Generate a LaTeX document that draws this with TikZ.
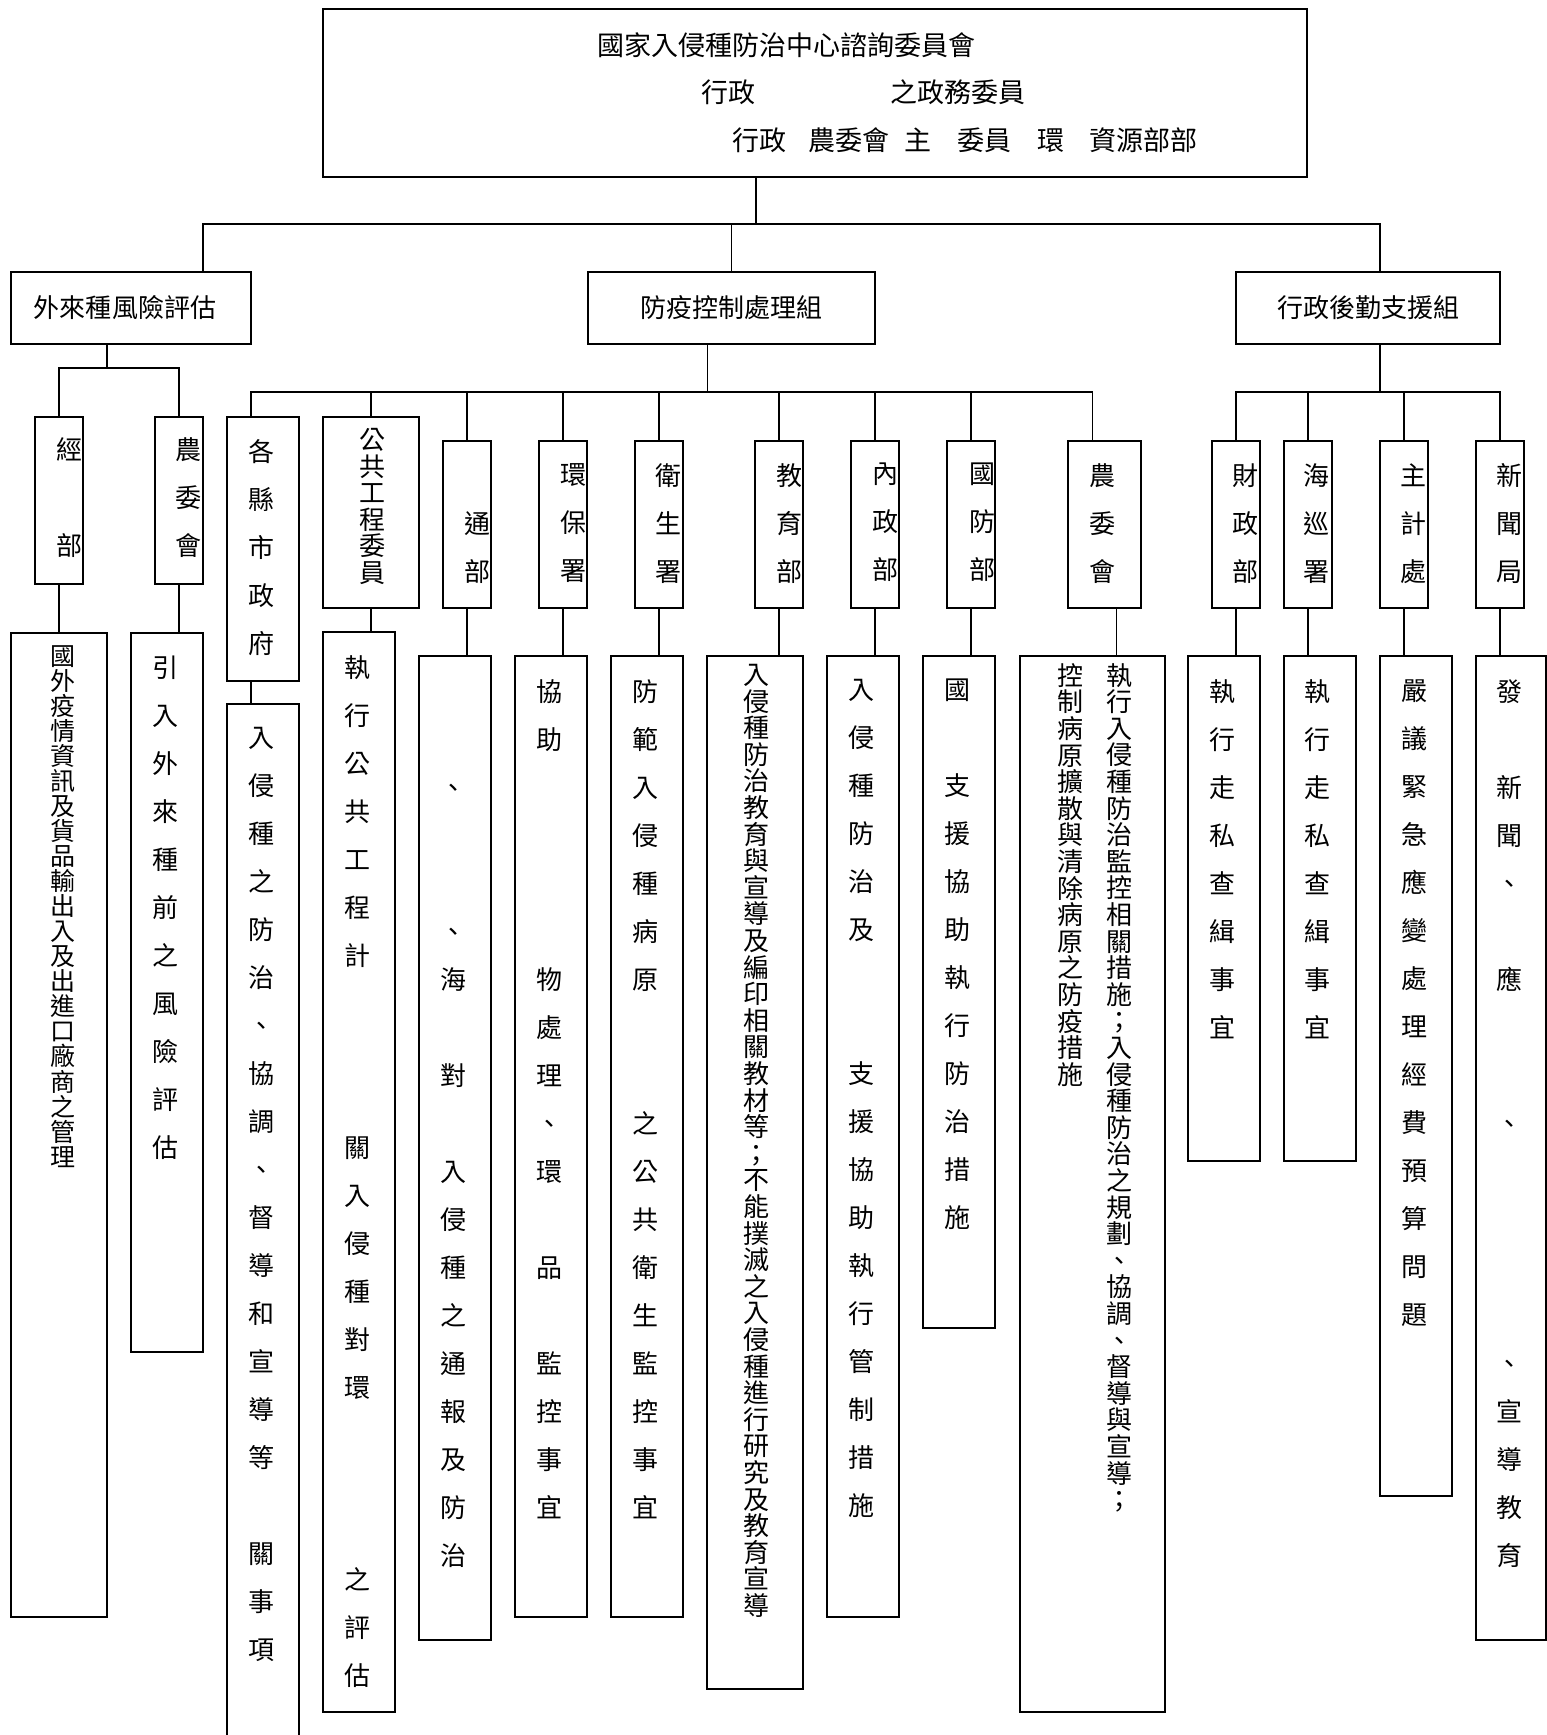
\documentclass[tikz,border=0pt]{standalone}
\usepackage{fontspec}
\setmainfont{Noto Sans CJK TC}
\usetikzlibrary{positioning,fit}
\newcommand{\emptyslot}{\rule{0pt}{22pt}}

\begin{document}
\begin{tikzpicture}[x=1pt, y=-1pt,
    box/.style={draw, line width=1.8pt, inner sep=0pt},
    link/.style={line width=1.8pt},
    glabel/.style={inner sep=0pt, font=\fontsize{26}{30}\selectfont},
    hlabel/.style={inner sep=0pt, anchor=west, font=\fontsize{27}{30}\selectfont},
    vlabel/.style={inner sep=0pt, align=center, font=\fontsize{26}{48}\selectfont},
    vdense/.style={vlabel, font=\fontsize{26}{26.6}\selectfont},
    vsmall/.style={vlabel, font=\fontsize{25}{25.05}\selectfont}
]
\useasboundingbox (0,0) rectangle (1547,1735);

% committee
\node[box, fit={(323,9) (1307,177)}] (council) {};
\node[hlabel] (title) at (597,45) {國家入侵種防治中心諮詢委員會};
\node[hlabel] (line2) at (701,92) {行政\hspace{135pt}之政務委員};
\node[hlabel] (line3) at (732,140)
    {行政\hspace{22pt}農委會\hspace{15pt}主\hspace{26pt}委員\hspace{26pt}環\hspace{25pt}資源部部};

% groups
\node[box, fit={(11,272) (251,344)}] (risk) {};
\node[box, fit={(588,272) (875,344)}] (ctl) {};
\node[box, fit={(1236,272) (1500,344)}] (admin) {};
\node[glabel, xshift=-6pt] (risk-t) at (risk.center) {外來種風險評估};
\node[glabel] (ctl-t) at (ctl.center) {防疫控制處理組};
\node[glabel] (admin-t) at (admin.center) {行政後勤支援組};

% agencies
\node[box, fit={(35,417) (83,584)}] (cw) {};
\node[box, fit={(155,417) (203,584)}] (coa1) {};
\node[box, fit={(227,417) (299,681)}] (gov) {};
\node[box, fit={(323,417) (419,608)}] (pcc) {};
\node[box, fit={(443,441) (491,608)}] (motc) {};
\node[box, fit={(539,441) (587,608)}] (epa) {};
\node[box, fit={(635,441) (683,608)}] (doh) {};
\node[box, fit={(755,441) (803,608)}] (moe) {};
\node[box, fit={(851,441) (899,608)}] (moi) {};
\node[box, fit={(947,441) (995,608)}] (mnd) {};
\node[box, fit={(1068,441) (1141,608)}] (coa2) {};
\node[box, fit={(1212,441) (1260,608)}] (fin) {};
\node[box, fit={(1284,441) (1332,608)}] (cga) {};
\node[box, fit={(1380,441) (1428,608)}] (dgbas) {};
\node[box, fit={(1476,441) (1524,608)}] (gio) {};

\node[vlabel, below=21pt of cw.north, xshift=10pt] (cw-t) {經\\\emptyslot\\部};
\node[vlabel, below=21pt of coa1.north, xshift=9pt] (coa1-t) {農\\委\\會};
\node[vlabel, below=23pt of gov.north, xshift=-2pt] (gov-t) {各\\縣\\市\\政\\府};
\node[vdense, below=12pt of pcc.north, xshift=1pt] (pcc-t) {公\\共\\工\\程\\委\\員};
\node[vlabel, below=23pt of motc.north, xshift=10pt] (motc-t) {\emptyslot\\通\\部};
\node[vlabel, below=23pt of epa.north, xshift=10pt] (epa-t) {環\\保\\署};
\node[vlabel, below=23pt of doh.north, xshift=9pt] (doh-t) {衛\\生\\署};
\node[vlabel, below=23pt of moe.north, xshift=10pt] (moe-t) {教\\育\\部};
\node[vlabel, below=23pt of moi.north, xshift=10pt] (moi-t) {內\\政\\部};
\node[vlabel, below=23pt of mnd.north, xshift=11pt] (mnd-t) {國\\防\\部};
\node[vlabel, below=23pt of coa2.north, xshift=-2pt] (coa2-t) {農\\委\\會};
\node[vlabel, below=23pt of fin.north, xshift=9pt] (fin-t) {財\\政\\部};
\node[vlabel, below=23pt of cga.north, xshift=8pt] (cga-t) {海\\巡\\署};
\node[vlabel, below=23pt of dgbas.north, xshift=9pt] (dgbas-t) {主\\計\\處};
\node[vlabel, below=23pt of gio.north, xshift=9pt] (gio-t) {新\\聞\\局};

% duties
\node[box, fit={(11,633) (107,1617)}] (cwd) {};
\node[box, fit={(131,633) (203,1352)}] (coa1d) {};
\node[box, fit={(227,704) (299,1770)}] (govd) {};
\node[box, fit={(323,632) (395,1712)}] (pccd) {};
\node[box, fit={(419,656) (491,1640)}] (motcd) {};
\node[box, fit={(515,656) (587,1617)}] (epad) {};
\node[box, fit={(611,656) (683,1617)}] (dohd) {};
\node[box, fit={(707,656) (803,1689)}] (moed) {};
\node[box, fit={(827,656) (899,1617)}] (moid) {};
\node[box, fit={(923,656) (995,1328)}] (mndd) {};
\node[box, fit={(1020,656) (1165,1712)}] (coa2d) {};
\node[box, fit={(1188,656) (1260,1161)}] (find) {};
\node[box, fit={(1284,656) (1356,1161)}] (cgad) {};
\node[box, fit={(1380,656) (1452,1496)}] (dgbasd) {};
\node[box, fit={(1476,656) (1546,1640)}] (giod) {};

\node[vsmall, below=13pt of cwd.north, xshift=4pt] (cwd-t)
    {國\\外\\疫\\情\\資\\訊\\及\\貨\\品\\輸\\出\\入\\及\\出\\進\\口\\廠\\商\\之\\管\\理};
\node[vlabel, below=24pt of coa1d.north, xshift=-2pt] (coa1d-t)
    {引\\入\\外\\來\\種\\前\\之\\風\\險\\評\\估};
\node[vlabel, below=24pt of govd.north, xshift=-2pt] (govd-t)
    {入\\侵\\種\\之\\防\\治\\、\\協\\調\\、\\督\\導\\和\\宣\\導\\等\\\emptyslot\\關\\事\\項};
\node[vlabel, below=24pt of pccd.north, xshift=-2pt] (pccd-t)
    {執\\行\\公\\共\\工\\程\\計\\\emptyslot\\\emptyslot\\\emptyslot\\關\\入\\侵\\種\\對\\環\\\emptyslot\\\emptyslot\\\emptyslot\\之\\評\\估};
\node[vlabel, below=24pt of motcd.north, xshift=-2pt] (motcd-t)
    {\emptyslot\\\emptyslot\\、\\\emptyslot\\\emptyslot\\、\\海\\\emptyslot\\對\\\emptyslot\\入\\侵\\種\\之\\通\\報\\及\\防\\治};
\node[vlabel, below=24pt of epad.north, xshift=-2pt] (epad-t)
    {協\\助\\\emptyslot\\\emptyslot\\\emptyslot\\\emptyslot\\物\\處\\理\\、\\環\\\emptyslot\\品\\\emptyslot\\監\\控\\事\\宜};
\node[vlabel, below=24pt of dohd.north, xshift=-2pt] (dohd-t)
    {防\\範\\入\\侵\\種\\病\\原\\\emptyslot\\\emptyslot\\之\\公\\共\\衛\\生\\監\\控\\事\\宜};
\node[vdense, below=9pt of moed.north, xshift=1pt] (moed-t)
    {入\\侵\\種\\防\\治\\教\\育\\與\\宣\\導\\及\\編\\印\\相\\關\\教\\材\\等\\；\\不\\能\\撲\\滅\\之\\入\\侵\\種\\進\\行\\研\\究\\及\\教\\育\\宣\\導};
\node[vlabel, below=24pt of moid.north, xshift=-2pt] (moid-t)
    {入\\侵\\種\\防\\治\\及\\\emptyslot\\\emptyslot\\支\\援\\協\\助\\執\\行\\管\\制\\措\\施};
\node[vlabel, below=24pt of mndd.north, xshift=-2pt] (mndd-t)
    {國\\\emptyslot\\支\\援\\協\\助\\執\\行\\防\\治\\措\\施};
\node[vdense, below=8pt of coa2d.north, xshift=27pt] (coa2d-r)
    {執\\行\\入\\侵\\種\\防\\治\\監\\控\\相\\關\\措\\施\\；\\入\\侵\\種\\防\\治\\之\\規\\劃\\、\\協\\調\\、\\督\\導\\與\\宣\\導\\；};
\node[vdense, below=8pt of coa2d.north, xshift=-22pt] (coa2d-l)
    {控\\制\\病\\原\\擴\\散\\與\\清\\除\\病\\原\\之\\防\\疫\\措\\施};
\node[vlabel, below=24pt of find.north, xshift=-2pt] (find-t) {執\\行\\走\\私\\查\\緝\\事\\宜};
\node[vlabel, below=24pt of cgad.north, xshift=-3pt] (cgad-t) {執\\行\\走\\私\\查\\緝\\事\\宜};
\node[vlabel, below=24pt of dgbasd.north, xshift=-2pt] (dgbasd-t)
    {嚴\\議\\緊\\急\\應\\變\\處\\理\\經\\費\\預\\算\\問\\題};
\node[vlabel, below=24pt of giod.north, xshift=-2pt] (giod-t)
    {發\\\emptyslot\\新\\聞\\、\\\emptyslot\\應\\\emptyslot\\\emptyslot\\、\\\emptyslot\\\emptyslot\\\emptyslot\\\emptyslot\\、\\宣\\導\\教\\育};

% connectors
\coordinate (bus0) at (0,224);
\coordinate (bus1) at (0,368);
\coordinate (bus2) at (0,392);
\draw[link] ([xshift=-59pt]council.south) -- ([xshift=-59pt]council.south |- bus0);
\draw[link] ([xshift=72pt]risk.north) |- ([xshift=12pt]admin.north |- bus0) -- ([xshift=12pt]admin.north);
\draw[link] (ctl.north) -- (ctl.north |- bus0);

\draw[link] ([xshift=-24pt]risk.south) -- ([xshift=-24pt]risk.south |- bus1);
\draw[link] (cw.north) |- (coa1.north |- bus1) -- (coa1.north);

\draw[link] ([xshift=-24pt]ctl.south) -- ([xshift=-24pt]ctl.south |- bus2);
\draw[link] ([xshift=-12pt]gov.north) |- ([xshift=-12pt]coa2.north |- bus2) -- ([xshift=-12pt]coa2.north);
\draw[link] (pcc.north) -- (pcc.north |- bus2);
\draw[link] (motc.north) -- (motc.north |- bus2);
\draw[link] (epa.north) -- (epa.north |- bus2);
\draw[link] (doh.north) -- (doh.north |- bus2);
\draw[link] (moe.north) -- (moe.north |- bus2);
\draw[link] (moi.north) -- (moi.north |- bus2);
\draw[link] (mnd.north) -- (mnd.north |- bus2);

\draw[link] ([xshift=12pt]admin.south) -- ([xshift=12pt]admin.south |- bus2);
\draw[link] (fin.north) |- (gio.north |- bus2) -- (gio.north);
\draw[link] (cga.north) -- (cga.north |- bus2);
\draw[link] (dgbas.north) -- (dgbas.north |- bus2);

\draw[link] (cw.south) -- (cwd.north);
\draw[link] (coa1.south) -- (coa1.south |- coa1d.north);
\draw[link] ([xshift=-12pt]gov.south) -- ([xshift=-12pt]govd.north);
\draw[link] (pcc.south) -- (pcc.south |- pccd.north);
\draw[link] (motc.south) -- (motc.south |- motcd.north);
\draw[link] (epa.south) -- (epa.south |- epad.north);
\draw[link] (doh.south) -- (doh.south |- dohd.north);
\draw[link] (moe.south) -- (moe.south |- moed.north);
\draw[link] (moi.south) -- (moi.south |- moid.north);
\draw[link] (mnd.south) -- (mnd.south |- mndd.north);
\draw[link] ([xshift=12pt]coa2.south) -- ([xshift=12pt]coa2.south |- coa2d.north);
\draw[link] (fin.south) -- (fin.south |- find.north);
\draw[link] (cga.south) -- (cga.south |- cgad.north);
\draw[link] (dgbas.south) -- (dgbas.south |- dgbasd.north);
\draw[link] (gio.south) -- (gio.south |- giod.north);
\end{tikzpicture}
\end{document}
